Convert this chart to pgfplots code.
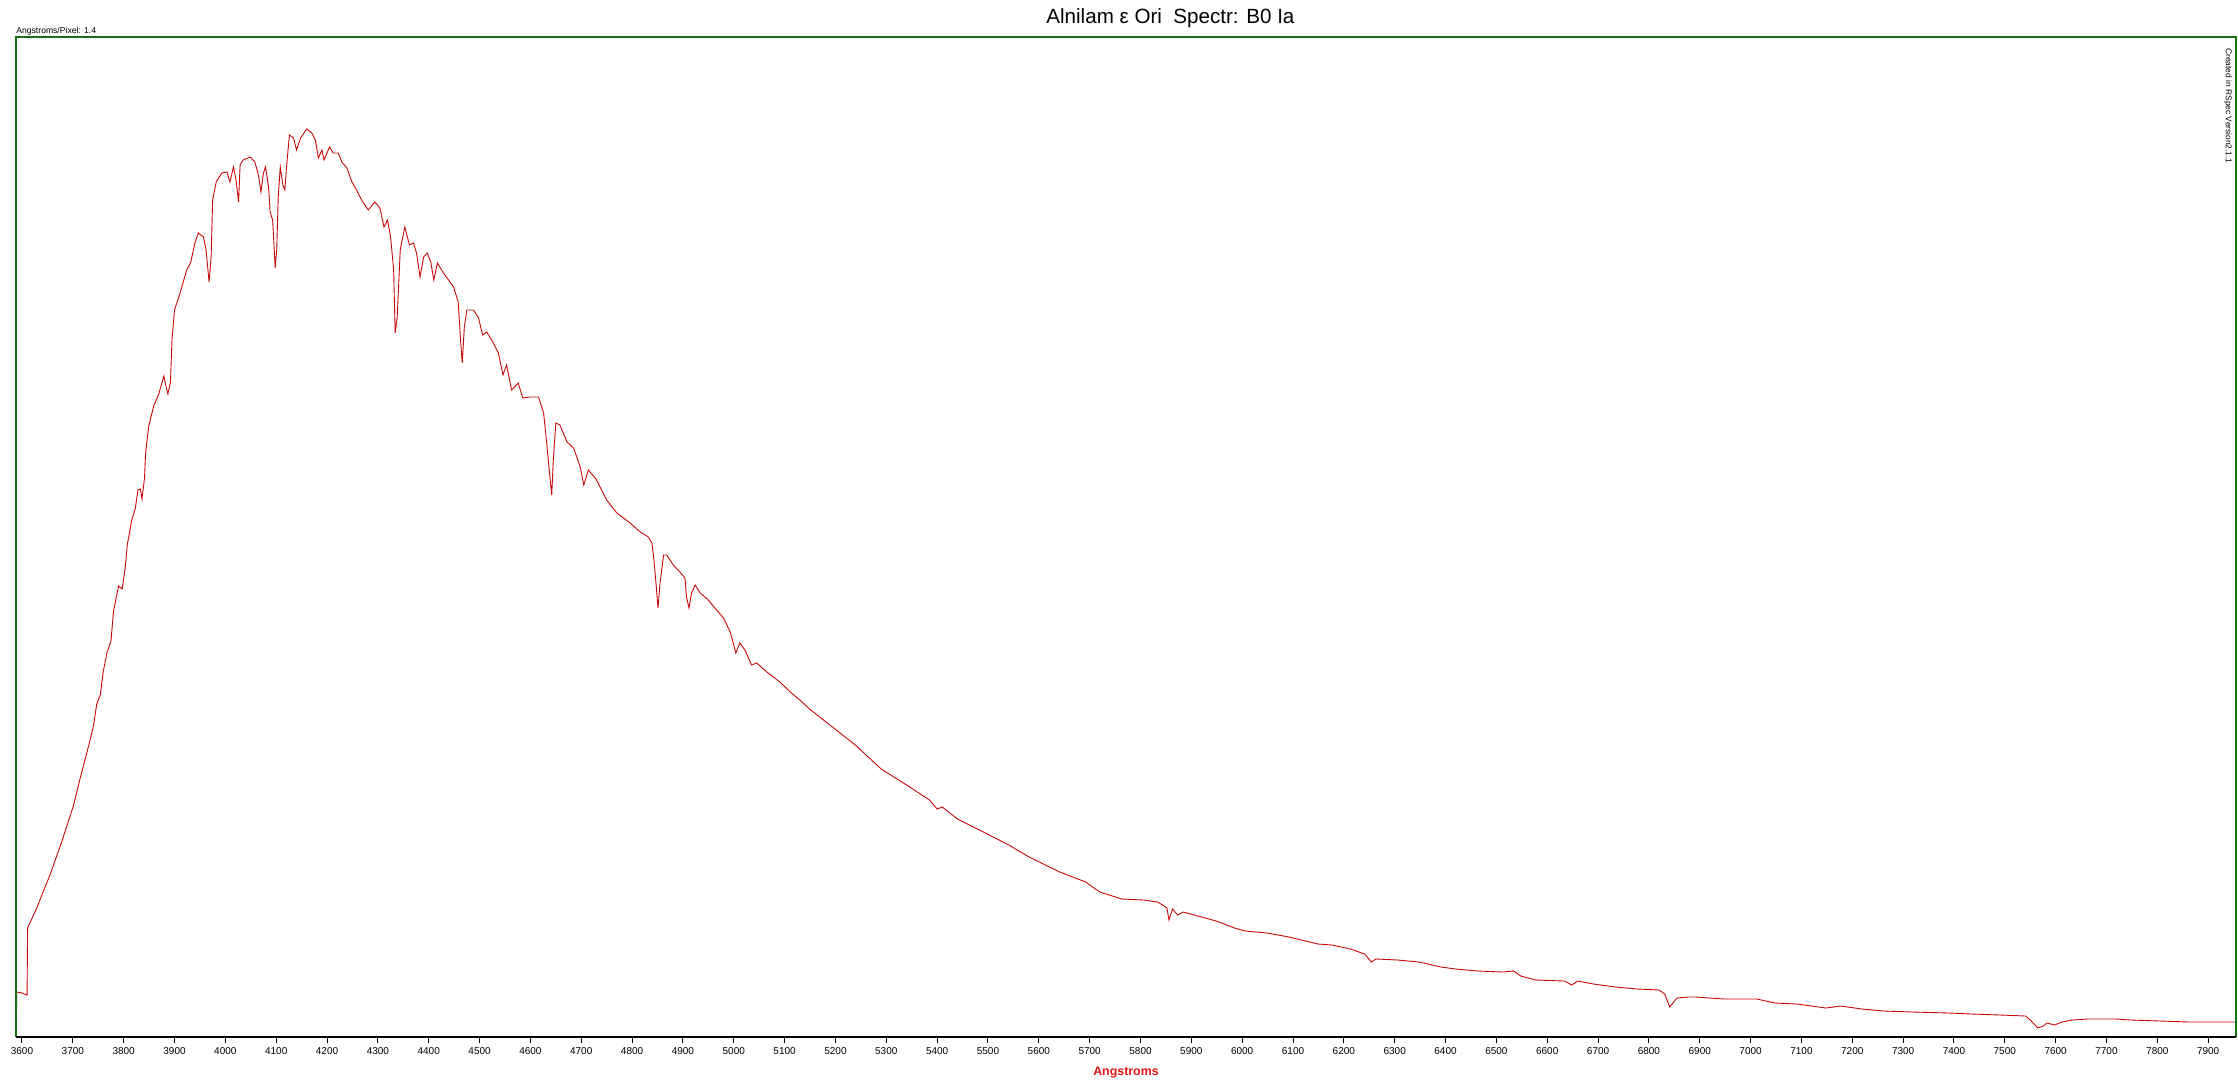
\documentclass[border=0pt]{standalone}
\usepackage{fontspec}
\setmainfont{Liberation Sans}
\usepackage{pgfplots}
\pgfplotsset{compat=1.18}
\definecolor{specred}{RGB}{200,8,8}
\definecolor{framegreen}{RGB}{20,115,20}
\definecolor{labred}{RGB}{224,20,20}
\begin{document}
\begin{tikzpicture}
\begin{axis}[
  name=ax,
  scale only axis,
  width=1110pt, height=500pt,
  xmin=3588.2, xmax=7954.8, ymin=0, ymax=1000,
  clip=false,
  axis line style={draw=none},
  xtick={3600,3700,...,7900},
  ytick=\empty,
  xtick pos=left,
  tick align=outside,
  major tick length=3pt,
  tick style={black, line width=0.5pt},
  xticklabel style={font=\fontsize{5}{6}\selectfont, inner sep=1pt, yshift=-1pt},
  /pgf/number format/assume math mode=true,
  /pgf/number format/set thousands separator={},
  xlabel={Angstroms},
  xlabel style={font=\bfseries\fontsize{6.2}{7}\selectfont, text=labred, at={(axis description cs:0.5,0)}, anchor=center, yshift=-18pt},
]
\addplot[specred, line width=0.45pt] coordinates {
(3589,6) (3589.5,45) (3600,44) (3610,42) (3611,109) (3629,129) (3655,162) (3678,195)
(3701,231) (3714,258) (3731,291) (3741,312) (3747,333) (3754,342) (3760,366) (3767,384)
(3775,396) (3780,426) (3790,451) (3797,448) (3803,469) (3807,492) (3816,517) (3823,529)
(3828,547) (3833,548) (3836,538) (3841,559) (3843,583) (3849,610) (3859,631) (3869,643)
(3879,661) (3884,649) (3887,643) (3892,655) (3895,697) (3900,727) (3911,744) (3924,767)
(3932,775) (3940,794) (3947,804) (3957,800) (3962,787) (3968,755) (3972,780) (3975,837)
(3982,855) (3993,864) (4003,865) (4009,855) (4016,870) (4021,857) (4026,835) (4029,872)
(4035,877) (4049,880) (4058,875) (4065,862) (4070,845) (4075,864) (4079,870) (4085,850)
(4088,825) (4093,817) (4098,769) (4101,787) (4104,840) (4108,870) (4113,852) (4117,847)
(4121,874) (4126,902) (4134,899) (4140,887) (4148,899) (4160,908) (4170,904) (4177,897)
(4183,879) (4190,887) (4194,877) (4205,890) (4212,884) (4222,884) (4229,875) (4239,869)
(4249,855) (4258,847) (4268,837) (4281,827) (4294,835) (4304,829) (4312,810) (4319,817)
(4325,800) (4331,767) (4334,704) (4338,720) (4344,787) (4353,810) (4362,792) (4370,794)
(4376,784) (4383,760) (4390,780) (4397,784) (4404,775) (4410,757) (4417,774) (4429,764)
(4439,757) (4449,750) (4458,735) (4463,694) (4466,674) (4470,710) (4475,727) (4488,727)
(4498,719) (4506,702) (4514,705) (4527,694) (4537,684) (4546,662) (4553,672) (4563,647)
(4576,654) (4585,639) (4599,640) (4616,640) (4626,624) (4632,594) (4637,567) (4642,542)
(4645,577) (4650,614) (4658,612) (4672,595) (4685,589) (4698,570) (4705,552) (4714,567)
(4729,558) (4750,537) (4770,524) (4796,514) (4816,505) (4832,500) (4839,494) (4843,477)
(4847,454) (4851,429) (4855,454) (4862,482) (4868,482) (4881,472) (4894,465) (4904,459)
(4907,440) (4912,429) (4917,444) (4924,452) (4934,444) (4950,437) (4966,427) (4980,419)
(4993,405) (4999,394) (5004,384) (5012,394) (5022,387) (5035,372) (5045,374) (5065,365)
(5091,355) (5111,345) (5130,337) (5149,328) (5199,308) (5239,292) (5290,268) (5340,252)
(5385,237) (5400,228) (5410,230) (5440,218) (5491,205) (5541,192) (5581,180) (5641,165)
(5692,155) (5720,145) (5763,138) (5806,137) (5834,135) (5852,129) (5856,117) (5863,128)
(5873,122) (5884,125) (5920,120) (5949,116) (5985,109) (6006,106) (6049,104) (6092,100)
(6149,93) (6177,92) (6213,88) (6241,83) (6254,75) (6263,78) (6306,77) (6348,75)
(6391,70) (6420,68) (6463,66) (6513,65) (6534,66) (6548,61) (6577,57) (6634,56)
(6648,52) (6660,56) (6691,53) (6734,50) (6777,48) (6820,47) (6831,43) (6841,30)
(6855,39) (6877,40) (6891,40) (6948,38) (7012,38) (7048,34) (7091,33) (7148,29)
(7177,31) (7219,28) (7262,26) (7319,25) (7391,24) (7434,23) (7491,22) (7541,21)
(7550,17) (7565,9) (7576,11) (7583,14) (7598,12) (7612,15) (7633,17) (7662,18)
(7719,18) (7748,17) (7805,16) (7862,15) (7954.8,15)
};
\draw[framegreen, line width=0.8pt] (rel axis cs:0,0) -- (rel axis cs:0,1) -- (rel axis cs:1,1) -- (rel axis cs:1,0);
\draw[black, line width=0.7pt] (rel axis cs:0,0) -- (rel axis cs:1,0) -- ++(1pt,0);
\node[anchor=south west, inner sep=0pt, font=\fontsize{4.3}{5}\selectfont] at (axis description cs:0,1) [yshift=0.6pt] {Angstroms/Pixel: 1.4};
\node[rotate=-90, inner sep=0pt, font=\fontsize{4.2}{5}\selectfont] at (axis description cs:0.9964,0.931) {Created in RSpec Version2.1.1};
\node[inner sep=0pt, font=\fontsize{10.3}{12}\selectfont] at (axis description cs:0.52,1) [yshift=9.5pt] {Alnilam ε Ori\ \ Spectr: B0 Ia};
\end{axis}
\pgfresetboundingbox
\useasboundingbox ([xshift=-8pt,yshift=-21.5pt]ax.south west) rectangle ([xshift=1pt,yshift=18.5pt]ax.north east);
\end{tikzpicture}
\end{document}
